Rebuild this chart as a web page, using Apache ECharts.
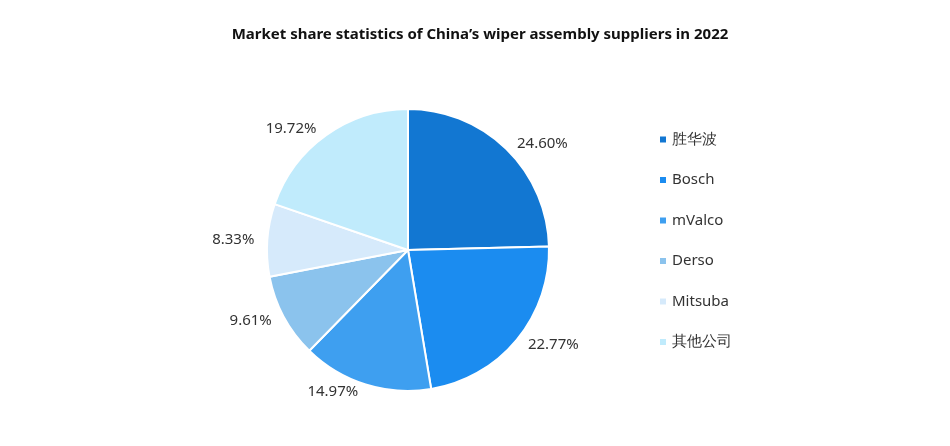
<!DOCTYPE html><html><head><meta charset="utf-8"><script src="https://cdn.jsdelivr.net/npm/echarts@6/dist/echarts.min.js"></script></head><body style="margin:0;background:#fff"><div id="c" style="width:950px;height:446px"></div><script>
const categories=['胜华波','Bosch','mValco','Derso','Mitsuba','其他公司'];
const values=[24.60,22.77,14.97,9.61,8.33,19.72];
const colors=['#1277d2','#1b8cf0','#3e9ff0','#8bc3ed','#d6eafb','#c0ebfc'];
const ch=echarts.init(document.getElementById('c'));
ch.setOption({
title:{text:'Market share statistics of China’s wiper assembly suppliers in 2022',left:475,textAlign:'center',top:22,textStyle:{fontSize:15,fontWeight:'bold',color:'#111',fontFamily:'Noto Sans'}},
legend:{orient:'vertical',left:653,top:127,itemGap:25.5,itemWidth:8,itemHeight:8,icon:'rect',textStyle:{fontSize:15,color:'#333',fontFamily:'Noto Sans'},data:categories},
series:[{type:'pie',center:[408,250],radius:141,startAngle:90,clockwise:true,
label:{formatter:p=>p.value.toFixed(2)+'%',fontSize:15,color:'#333',fontFamily:'Noto Sans'},
labelLine:{show:false,length:8,length2:0},
itemStyle:{borderColor:'#fff',borderWidth:2},
data:categories.map((n,i)=>({name:n,value:values[i],itemStyle:{color:colors[i]}}))}]
});
</script></body></html>
